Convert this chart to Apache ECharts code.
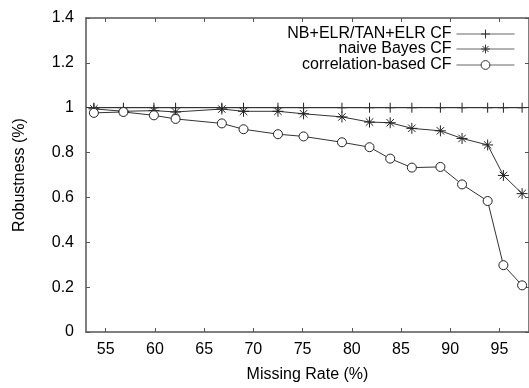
<!DOCTYPE html>
<html>
<head>
<meta charset="utf-8">
<script src="https://cdn.jsdelivr.net/npm/echarts@6/dist/echarts.min.js"></script>
<style>
html,body{margin:0;padding:0;background:#fff;}
#chart{width:529px;height:388px;}
</style>
</head>
<body>
<div id="chart"></div>
<script>
var missingRate = [53.8, 56.8, 59.9, 62.1, 66.8, 69.0, 72.5, 75.1, 79.0, 81.8, 83.9, 86.1, 89.0, 91.2, 93.8, 95.4, 97.3];
var nbElrCF =     [1, 1, 1, 1, 1, 1, 1, 1, 1, 1, 1, 1, 1, 1, 1, 1, 1];
var naiveBayesCF = [0.995, 0.984, 0.987, 0.981, 0.994, 0.984, 0.984, 0.973, 0.959, 0.936, 0.933, 0.908, 0.897, 0.863, 0.834, 0.698, 0.617];
var correlationCF = [0.977, 0.981, 0.966, 0.950, 0.930, 0.904, 0.882, 0.872, 0.846, 0.824, 0.773, 0.733, 0.736, 0.658, 0.584, 0.298, 0.208];
var xTicks = [55, 60, 65, 70, 75, 80, 85, 90, 95];
var seriesNames = ['NB+ELR/TAN+ELR CF', 'naive Bayes CF', 'correlation-based CF'];

function pairs(ys){ return missingRate.map(function(x,i){ return [x, ys[i]]; }); }

var FONT = 'Liberation Sans, Arial, sans-serif';
var AX = '#555';
var LC = '#333';
var plusPath = 'path://M0,5L10,5M5,0L5,10';
var starPath = 'path://M0,5L10,5M5,0L5,10M1.6,1.6L8.4,8.4M8.4,1.6L1.6,8.4';

var chart = echarts.init(document.getElementById('chart'), null, {renderer:'canvas'});
function legendFor(name, top, fill){
  return {
    data:[name], right:14, top:top, orient:'horizontal', align:'right',
    itemWidth:58, itemHeight:11, padding:0, selectedMode:false,
    lineStyle:{width:1, color:'#666'},
    itemStyle:{color:fill, borderColor:'#333', borderWidth:1},
    textStyle:{fontFamily:FONT, fontSize:16, color:'#000'}
  };
}
chart.setOption({
  animation:false,
  backgroundColor:'#fff',
  grid:{left:86, top:18, right:-2, bottom:48.5, containLabel:false},
  legend:[legendFor(seriesNames[0], 26, 'none'), legendFor(seriesNames[1], 41, 'none'), legendFor(seriesNames[2], 57, '#fff')],
  xAxis:[{
    type:'value', min:53, max:98, position:'bottom',
    name:'Missing Rate (%)', nameLocation:'middle', nameGap:35,
    nameTextStyle:{fontFamily:FONT, fontSize:16, color:'#000'},
    axisLine:{show:true, onZero:false, lineStyle:{color:AX, width:1.5}},
    axisTick:{show:true, inside:true, length:4, customValues:xTicks, lineStyle:{color:AX}},
    axisLabel:{customValues:xTicks, margin:10, fontFamily:FONT, fontSize:16, color:'#000'},
    splitLine:{show:false}
  },{
    type:'value', min:53, max:98, position:'top',
    axisLine:{show:true, onZero:false, lineStyle:{color:AX, width:1.5}},
    axisTick:{show:true, inside:true, length:4, customValues:xTicks, lineStyle:{color:AX}},
    axisLabel:{show:false}, splitLine:{show:false}
  }],
  yAxis:[{
    type:'value', min:0, max:1.4, interval:0.2, position:'left',
    name:'Robustness (%)', nameLocation:'middle', nameGap:58,
    nameTextStyle:{fontFamily:FONT, fontSize:16, color:'#000'},
    axisLine:{show:true, onZero:false, lineStyle:{color:AX, width:1.5}},
    axisTick:{show:true, inside:true, length:4, lineStyle:{color:AX}},
    axisLabel:{margin:12, fontFamily:FONT, fontSize:16, color:'#000',
      formatter:function(v){ return String(Math.round(v*10)/10); }},
    splitLine:{show:false}
  },{
    type:'value', min:0, max:1.4, interval:0.2, position:'right',
    axisLine:{show:true, onZero:false, lineStyle:{color:AX, width:1.5}},
    axisTick:{show:true, inside:true, length:4, lineStyle:{color:AX}},
    axisLabel:{show:false}, splitLine:{show:false}
  }],
  series:[{
    name:seriesNames[0], type:'line', data:pairs(nbElrCF),
    symbol:plusPath, symbolSize:10, showAllSymbol:true,
    lineStyle:{color:LC, width:1},
    itemStyle:{color:'none', borderColor:'#222', borderWidth:1},
    markLine:{silent:true, symbol:'none', label:{show:false},
      lineStyle:{color:LC, width:1, type:'solid'}, data:[{yAxis:1}]},
    z:3
  },{
    name:seriesNames[1], type:'line', data:pairs(naiveBayesCF),
    symbol:starPath, symbolSize:11, showAllSymbol:true,
    lineStyle:{color:LC, width:1},
    itemStyle:{color:'none', borderColor:'#222', borderWidth:1},
    z:4
  },{
    name:seriesNames[2], type:'line', data:pairs(correlationCF),
    symbol:'circle', symbolSize:9, showAllSymbol:true,
    lineStyle:{color:LC, width:1},
    itemStyle:{color:'#fff', borderColor:'#222', borderWidth:1},
    z:5
  }]
});
</script>
</body>
</html>
